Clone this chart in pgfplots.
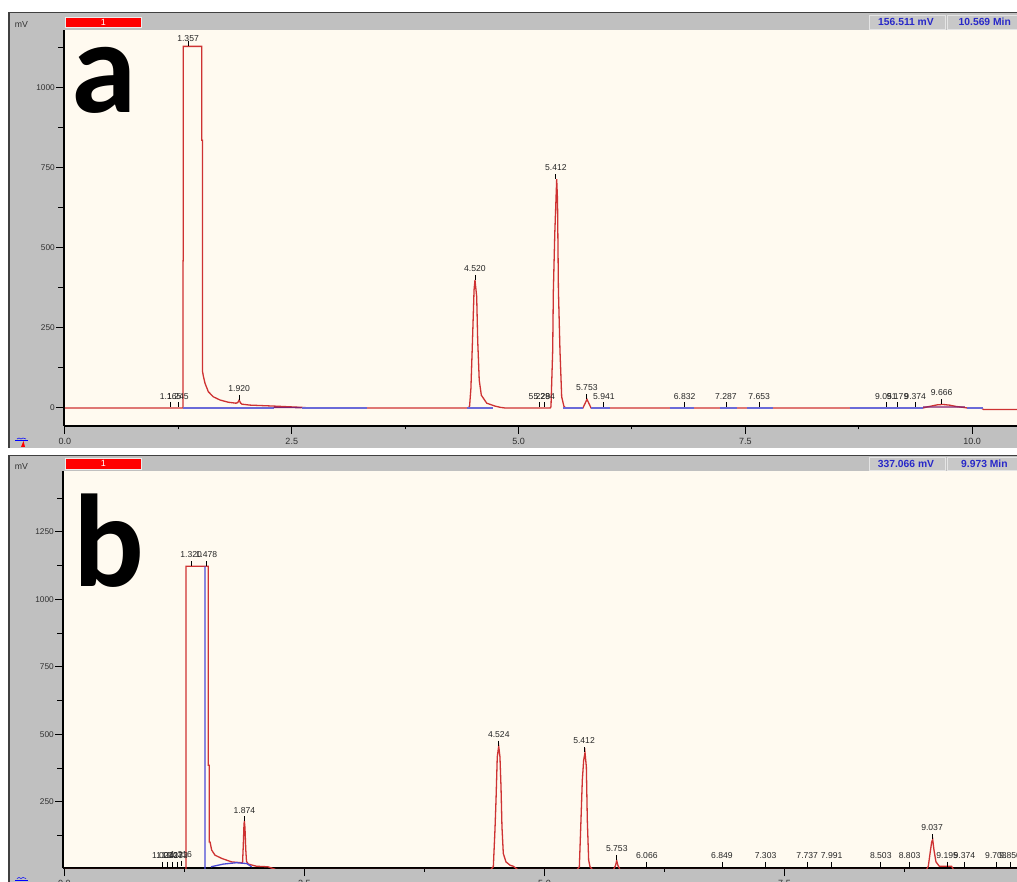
\documentclass[border=0pt]{standalone}
\usepackage{pgfplots}
\pgfplotsset{compat=1.18}
\usepackage{fontspec}
\setmainfont{Liberation Sans}
\newfontfamily\bigfont{Carlito}
\definecolor{panelgray}{HTML}{C0C0C0}
\definecolor{cream}{HTML}{FFFAF0}
\definecolor{trace}{HTML}{CE3232}
\definecolor{basecol}{HTML}{4A4AD6}
\definecolor{baselight}{HTML}{6A6AD8}
\definecolor{purp}{HTML}{802070}
\definecolor{infoblue}{HTML}{2828C8}
\definecolor{boxgray}{HTML}{C8C8C8}
\definecolor{ticktext}{HTML}{303030}

\pgfplotsset{
  chrom/.style={
    scale only axis,
    axis x line*=bottom, axis y line*=left,
    axis line style={line width=1.5pt, black},
    axis background/.style={fill=cream},
    tick align=outside,
    major tick length=8pt, minor tick length=6pt,
    tick style={black, line width=1pt},
    xtick={0,2.5,5,7.5,10},
    xticklabels={0.0,2.5,5.0,7.5,10.0},
    extra x ticks={1.25,3.75,6.25,8.75},
    extra x tick labels={},
    extra x tick style={major tick length=3.5pt},
    xticklabel style={font=\fontsize{9}{9}\selectfont, text=ticktext, yshift=-1pt},
    yticklabel style={font=\fontsize{8.3}{9}\selectfont, text=ticktext, inner sep=1pt},
    clip=true,
  },
  trc/.style={trace, line width=1.3pt},
  bas/.style={basecol, line width=1.3pt},
  pk/.style={only marks, mark=|, mark size=2.5pt,
    mark options={black, line width=0.8pt},
    point meta=explicit symbolic, nodes near coords,
    every node near coord/.append style={anchor=south, inner sep=0pt, yshift=5.5pt,
      font=\fontsize{8.6}{9}\selectfont, text=black!85}},
}

\begin{document}
\begin{tikzpicture}[x=1pt,y=1pt]
\fill[white] (0,0) rectangle (1017,881);
% ---------- panel frames ----------
\fill[panelgray] (8,433) rectangle (1017,869);
\draw[black!75, line width=1.5pt] (8.75,433) -- (8.75,868.25) -- (1017,868.25);
\fill[panelgray] (8,-5) rectangle (1017,426);
\draw[black!75, line width=1.5pt] (8.75,-5) -- (8.75,425.25) -- (1017,425.25);
% red boxes
\fill[red] (65.5,853.5) rectangle (141.5,863.5);
\draw[white!85!gray, line width=0.8pt] (65.5,853.5) rectangle (141.5,863.5);
\node[text=white, font=\fontsize{9}{9}\selectfont] at (103.5,858.5) {1};
\fill[red] (65.5,412) rectangle (141.5,422.5);
\draw[white!85!gray, line width=0.8pt] (65.5,412) rectangle (141.5,422.5);
\node[text=white, font=\fontsize{9}{9}\selectfont] at (103.5,417.2) {1};
% info boxes
\fill[boxgray] (869,852) rectangle (945.5,866);
\draw[white!80!gray, line width=0.8pt] (869,852) rectangle (945.5,866);
\fill[boxgray] (947.5,852) rectangle (1020,866);
\draw[white!80!gray, line width=0.8pt] (947.5,852) rectangle (1020,866);
\node[text=infoblue, font=\bfseries\fontsize{10.3}{10}\selectfont] at (906,859) {156.511 mV};
\node[text=infoblue, font=\bfseries\fontsize{10.3}{10}\selectfont, anchor=west, inner sep=0pt] at (958.5,859) {10.569 Min};
\fill[boxgray] (869,410.5) rectangle (945.5,423.5);
\draw[white!80!gray, line width=0.8pt] (869,410.5) rectangle (945.5,423.5);
\fill[boxgray] (947.5,410.5) rectangle (1020,423.5);
\draw[white!80!gray, line width=0.8pt] (947.5,410.5) rectangle (1020,423.5);
\node[text=infoblue, font=\bfseries\fontsize{10.3}{10}\selectfont] at (906,417) {337.066 mV};
\node[text=infoblue, font=\bfseries\fontsize{10.3}{10}\selectfont, anchor=west, inner sep=0pt] at (961,417) {9.973 Min};
% mV labels
\node[text=ticktext, font=\fontsize{8.7}{9}\selectfont] at (21.5,856) {mV};
\node[text=ticktext, font=\fontsize{8.7}{9}\selectfont] at (21.5,414) {mV};
% small cursor icons
\draw[blue, line width=1pt] (15,440) -- (28,440);
\draw[blue, line width=0.6pt] (17,442) -- (19,443) -- (21,442) -- (23,443) -- (26,442);
\fill[red] (21,434) -- (23.5,440) -- (25,434) -- cycle;
\draw[blue, line width=1pt] (15,1) -- (28,1);
\draw[blue, line width=0.6pt] (17,2.5) -- (19,3.5) -- (21,2.5) -- (23,3.5) -- (26,2.5);

% ================= TOP AXIS =================
\begin{axis}[chrom,
  at={(64pt,455pt)}, anchor=south west,
  width=953pt, height=395.5pt,
  xmin=-0.011, xmax=10.496,
  ymin=-56.25, ymax=1179.7,
  ytick={0,250,500,750,1000},
  yticklabels={0,250,500,750,1000},
  minor ytick={125,375,625,875,1125},
]
\addplot[trc] coordinates {
(0,0) (1.300,0) (1.300,460) (1.304,460) (1.304,1130) (1.507,1130) (1.507,837) (1.517,837)
(1.517,113) (1.525,100) (1.544,77) (1.580,51) (1.635,35) (1.709,25) (1.800,18) (1.885,15)
(1.905,17) (1.920,25) (1.935,16) (1.950,12) (2.040,9) (2.300,6) (2.610,2) (2.700,0)
(4.440,0) (4.460,4) (4.475,60) (4.490,187) (4.510,369) (4.520,400) (4.539,348) (4.550,212)
(4.567,87) (4.590,40) (4.650,15) (4.740,6) (4.800,2) (4.850,0)
(5.350,0) (5.358,4) (5.377,181) (5.384,363) (5.400,546) (5.421,715) (5.430,650) (5.440,369)
(5.457,181) (5.476,35) (5.500,6) (5.520,0)
(5.710,0) (5.740,18) (5.755,27) (5.770,18) (5.800,0)
(9.460,0) (9.500,3) (9.550,6) (9.620,10) (9.680,11) (9.750,9) (9.820,5) (9.900,2) (9.950,0)
(10.100,0) (10.130,-5) (10.600,-5)
};
\addplot[baselight, line width=1.3pt, unbounded coords=jump] coordinates {
(1.305,0) (2.30,0) (2.4,nan) (2.61,0) (3.33,0) (3.5,nan) (4.43,0) (4.72,0) (5.0,nan)
(5.49,0) (5.71,0) (5.75,nan) (5.80,0) (6.01,0) (6.3,nan) (6.67,0) (6.93,0) (7.0,nan)
(7.22,0) (7.41,0) (7.45,nan) (7.52,0) (7.81,0) (8.0,nan) (8.65,0) (9.46,0) (9.7,nan)
(9.94,0) (10.12,0)
};
\addplot[purp, line width=1.3pt, unbounded coords=jump] coordinates {
(2.30,2) (2.61,1) (5,nan) (9.46,3) (9.92,3)
};
\addplot[pk] table[meta=label] {
x y label
1.165 9.4 1.165
1.245 9.4 1.245
1.920 33 1.920
4.520 408 4.520
5.229 9.4 5.229
5.284 9.4 5.284
5.412 723 5.412
5.753 35 5.753
5.941 9.4 5.941
6.832 9.4 6.832
7.287 9.4 7.287
7.653 9.4 7.653
9.051 9.4 9.051
9.179 9.4 9.179
9.374 9.4 9.374
9.666 19 9.666
};
\addplot[pk, every node near coord/.append style={yshift=-4pt}] table[meta=label] {
x y label
1.357 1138 1.357
};
\end{axis}

% ================= BOTTOM AXIS =================
\begin{axis}[chrom,
  at={(63pt,13pt)}, anchor=south west,
  width=954pt, height=397pt,
  xmin=-0.0156, xmax=9.922,
  ymin=5.5, ymax=1475.9,
  ytick={250,500,750,1000,1250},
  yticklabels={250,500,750,1000,1250},
  minor ytick={125,375,625,875,1125,1375},
]
\addplot[trc] coordinates {
(0,0) (1.266,0) (1.266,1123) (1.498,1123) (1.498,386) (1.508,386) (1.508,102) (1.516,102)
(1.533,72) (1.568,53) (1.638,41) (1.742,28) (1.846,25) (1.855,26) (1.863,95) (1.870,170)
(1.874,177) (1.880,155) (1.888,75) (1.896,30) (1.915,20) (2.000,12) (2.120,10) (2.200,0)
(4.440,0) (4.467,10) (4.484,146) (4.495,257) (4.508,417) (4.523,457) (4.536,417) (4.547,306)
(4.557,158) (4.571,59) (4.599,28) (4.641,16) (4.675,12) (4.720,0)
(5.340,0) (5.363,10) (5.380,183) (5.394,331) (5.408,405) (5.422,433) (5.436,380) (5.446,183)
(5.460,35) (5.474,10) (5.500,0)
(5.720,0) (5.740,15) (5.752,33) (5.765,15) (5.785,0)
(8.980,0) (8.998,12) (9.016,59) (9.033,102) (9.044,111) (9.057,72) (9.078,28) (9.113,12)
(9.240,12) (9.260,0) (10,0)
};
\addplot[bas, unbounded coords=jump] coordinates {
(1.464,0) (1.464,1123) (1.5,nan) (1.526,10) (1.654,20) (1.790,25) (1.898,22) (1.950,10)
};
\addplot[pk] table[meta=label] {
x y label
1.024 18.5 1.024
1.070 18.5 1.070
1.123 18.5 1.123
1.173 18.5 1.173
1.216 24 1.216
1.320 1133 1.320
1.478 1133 1.478
1.874 187 1.874
4.524 467 4.524
5.412 443 5.412
5.753 43 5.753
6.066 18.5 6.066
6.849 18.5 6.849
7.303 18.5 7.303
7.737 18.5 7.737
7.991 18.5 7.991
8.503 18.5 8.503
8.803 18.5 8.803
9.037 121 9.037
9.195 18.5 9.195
9.374 18.5 9.374
9.703 18.5 9.703
9.850 18.5 9.850
};
\end{axis}

% big panel letters
\node[anchor=base west, inner sep=0pt, font=\bigfont\bfseries\fontsize{132}{132}\selectfont] at (71.7,768) {a};
\node[anchor=base west, inner sep=0pt, font=\bigfont\bfseries\fontsize{132}{132}\selectfont] at (73.7,294) {b};
\pgfresetboundingbox
\useasboundingbox (0,0) rectangle (1017,881);
\end{tikzpicture}
\end{document}
